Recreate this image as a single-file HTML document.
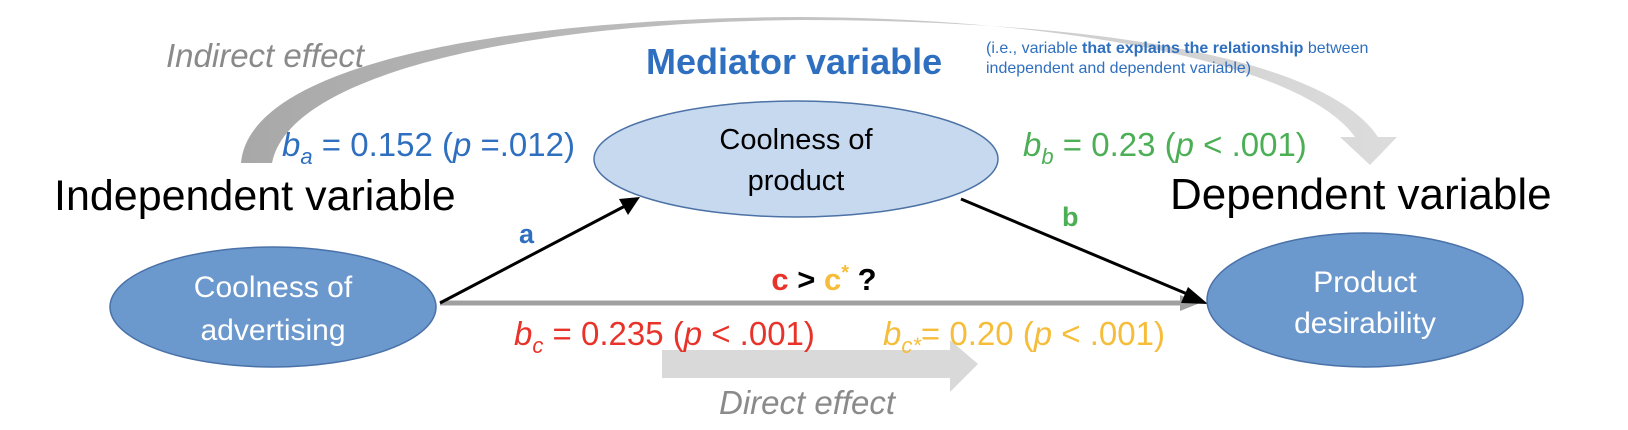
<!DOCTYPE html>
<html><head><meta charset="utf-8"><style>
html,body{margin:0;padding:0;background:#fff;}
svg{display:block;font-family:"Liberation Sans",Arial,sans-serif;}
</style></head><body>
<svg width="1628" height="430" viewBox="0 0 1628 430" xmlns="http://www.w3.org/2000/svg">
<defs>
<linearGradient id="g1" x1="0" y1="0" x2="1" y2="0">
<stop offset="0" stop-color="#a8a8a8"/><stop offset="0.5" stop-color="#c4c4c4"/><stop offset="1" stop-color="#dcdcdc"/>
</linearGradient>
</defs>
<path d="M241,163 C250,60 520,18 800,17 C1050,18 1300,60 1355,137 L1340,137 L1370,165 L1397,137 L1378,137 C1320,50 1060,20 800,20 C540,22 290,70 272,163 Z" fill="url(#g1)"/>
<text x="166" y="67" font-size="33" font-style="italic" fill="#8a8a8a">Indirect effect</text>
<text x="646" y="74" font-size="36" font-weight="bold" fill="#2f6fbf">Mediator variable</text>
<text x="986" y="53" font-size="16" fill="#2f6fbf">(i.e., variable <tspan font-weight="bold">that explains the relationship</tspan> between</text>
<text x="986" y="73" font-size="16" fill="#2f6fbf">independent and dependent variable)</text>
<ellipse cx="796" cy="159" rx="202" ry="58" fill="#c6d9ef" stroke="#4c72a6" stroke-width="1.5"/>
<text x="796" y="149" font-size="29" text-anchor="middle" fill="#000">Coolness of</text>
<text x="796" y="190" font-size="29" text-anchor="middle" fill="#000">product</text>
<text x="282" y="156" font-size="33" fill="#2f6fbf"><tspan font-style="italic">b</tspan><tspan font-style="italic" font-size="22" dy="8">a</tspan><tspan dy="-8"> = 0.152 (</tspan><tspan font-style="italic">p</tspan> =.012)</text>
<text x="1023" y="156" font-size="33" fill="#4caf55"><tspan font-style="italic">b</tspan><tspan font-style="italic" font-size="22" dy="8">b</tspan><tspan dy="-8"> = 0.23 (</tspan><tspan font-style="italic">p</tspan> &lt; .001)</text>
<text x="54" y="210" font-size="43" fill="#000">Independent variable</text>
<text x="1170" y="209" font-size="44" fill="#000">Dependent variable</text>
<text x="519" y="243" font-size="27" font-weight="bold" fill="#2f6fbf">a</text>
<text x="1062" y="226" font-size="27" font-weight="bold" fill="#4caf55">b</text>
<line x1="440" y1="303" x2="1185" y2="303" stroke="#a0a0a0" stroke-width="5"/>
<polygon points="1180,295 1200,303 1180,311" fill="#a0a0a0"/>
<line x1="440" y1="303" x2="625" y2="206" stroke="#000" stroke-width="3"/>
<polygon points="640,197 619,199 628,215" fill="#000"/>
<line x1="961" y1="199" x2="1192" y2="296" stroke="#000" stroke-width="3"/>
<polygon points="1208,304 1188,287 1181,303" fill="#000"/>
<ellipse cx="273" cy="307" rx="163" ry="60" fill="#6b98cd" stroke="#4a72a8" stroke-width="1.5"/>
<text x="273" y="297" font-size="30" text-anchor="middle" fill="#fff">Coolness of</text>
<text x="273" y="340" font-size="30" text-anchor="middle" fill="#fff">advertising</text>
<ellipse cx="1365" cy="300" rx="158" ry="67" fill="#6b98cd" stroke="#4a72a8" stroke-width="1.5"/>
<text x="1365" y="292" font-size="30" text-anchor="middle" fill="#fff">Product</text>
<text x="1365" y="333" font-size="30" text-anchor="middle" fill="#fff">desirability</text>
<text x="824" y="290" font-size="31" font-weight="bold" text-anchor="middle"><tspan fill="#e8332a">c</tspan><tspan fill="#000"> &gt; </tspan><tspan fill="#f6bd3a">c</tspan><tspan fill="#f6bd3a" font-size="20" dy="-11">*</tspan><tspan fill="#000" dy="11"> ?</tspan></text>
<polygon points="662,350 950,350 950,340 978,364 950,392 950,378 662,378" fill="#d9d9d9"/>
<text x="514" y="345" font-size="33" fill="#e8332a"><tspan font-style="italic">b</tspan><tspan font-style="italic" font-size="22" dy="8">c</tspan><tspan dy="-8"> = 0.235 (</tspan><tspan font-style="italic">p</tspan> &lt; .001)</text>
<text x="883" y="345" font-size="33" fill="#f6bd3a"><tspan font-style="italic">b</tspan><tspan font-style="italic" font-size="22" dy="8">c*</tspan><tspan dy="-8">= 0.20 (</tspan><tspan font-style="italic">p</tspan> &lt; .001)</text>
<text x="719" y="414" font-size="33" font-style="italic" fill="#8a8a8a">Direct effect</text>
</svg>
</body></html>
